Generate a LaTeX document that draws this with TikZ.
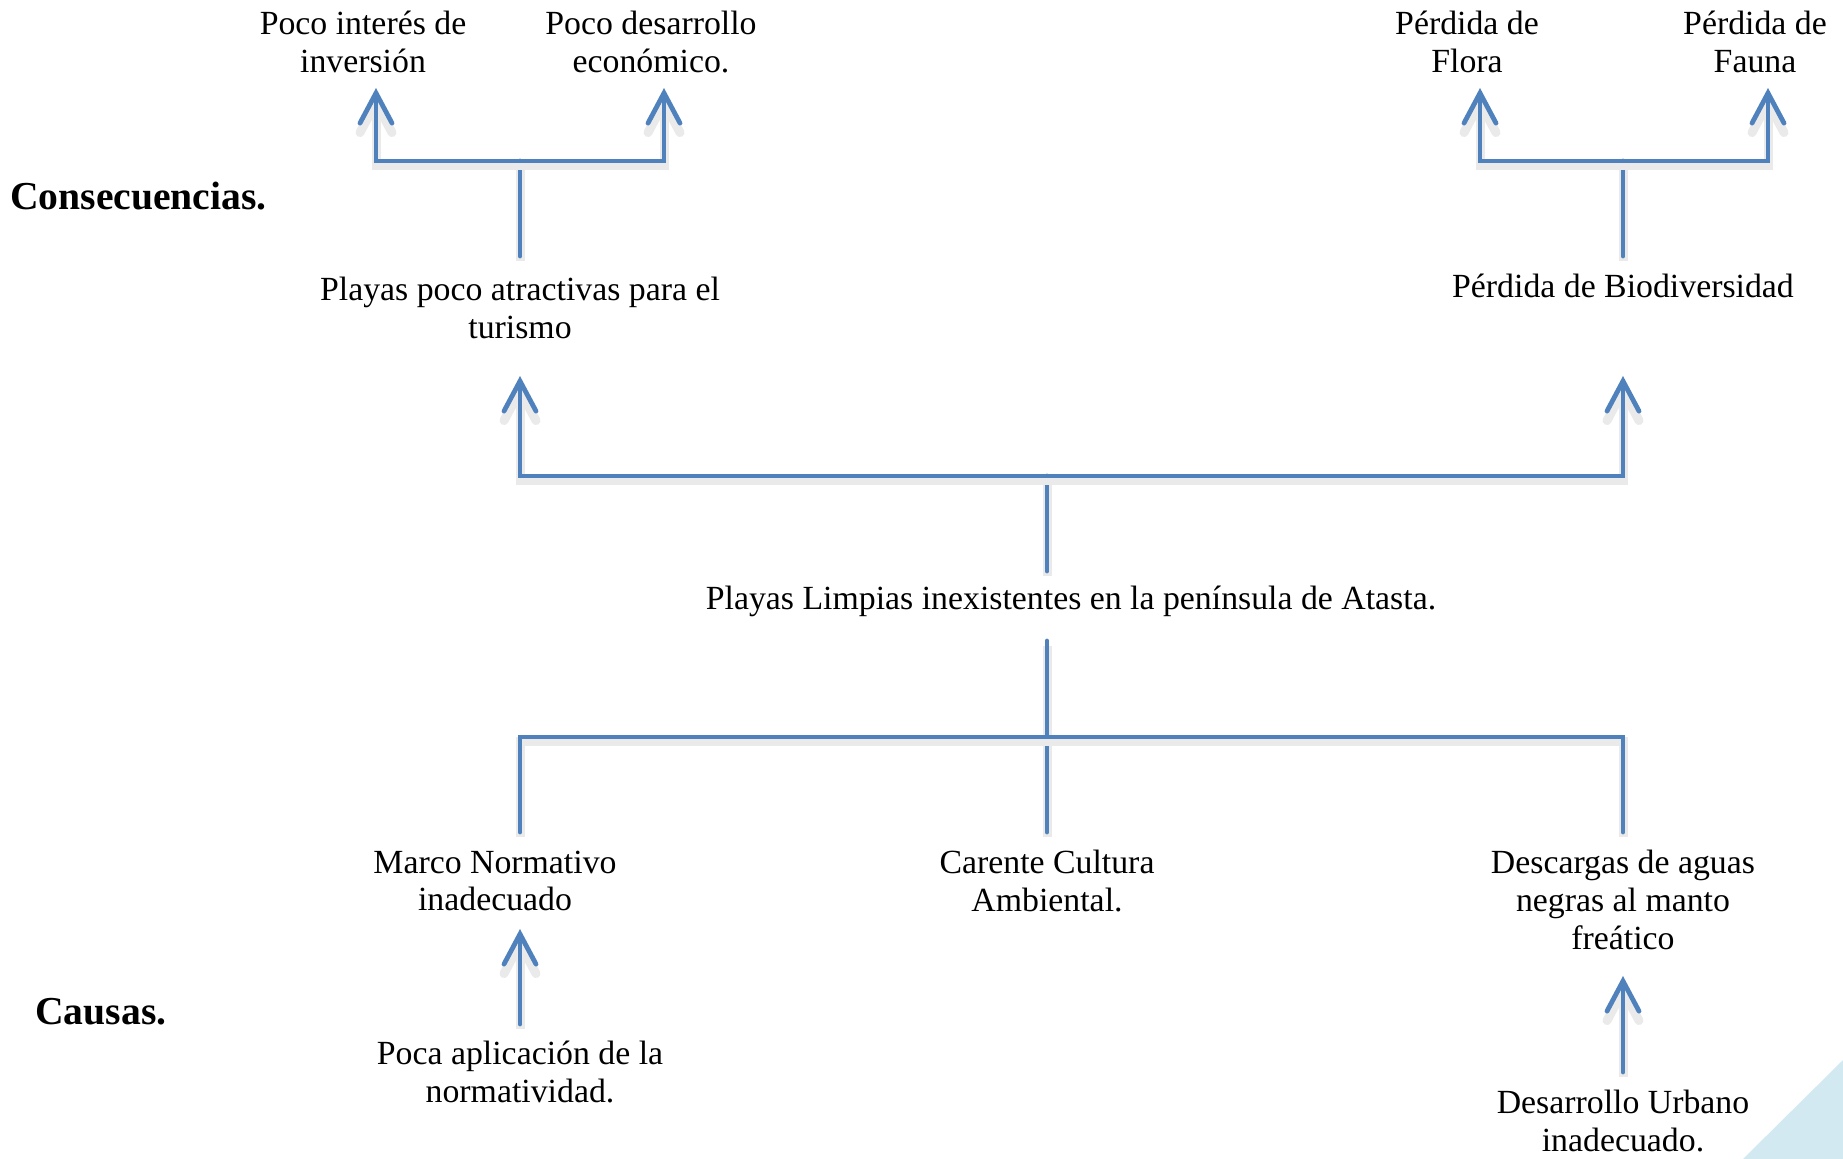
\documentclass[tikz,border=0pt]{standalone}
\usepackage{fontspec}
\setmainfont{Liberation Serif}
\usetikzlibrary{arrows.meta}
\definecolor{azul}{RGB}{79,129,189}
\definecolor{sombra}{RGB}{234,234,234}
\definecolor{celeste}{RGB}{211,233,241}
\tikzstyle{txt} = [align=center, inner sep=0pt,
    font=\fontsize{16.9}{18.8}\selectfont]
\tikzstyle{titulo} = [anchor=west, inner sep=0pt,
    font=\bfseries\fontsize{19.8}{22}\selectfont]
\tikzstyle{linea} = [draw=azul, line width=2.4pt, line cap=round,
    preaction={draw=sombra, line width=4.5pt, transform canvas={yshift=-2.5pt}}]
\tikzstyle{flecha} = [linea, -{Straight Barb[length=15pt,width=16pt,line cap=round]}]
\begin{document}
\begin{tikzpicture}[x=0.5pt,y=-0.5pt]
  \useasboundingbox (0,0) rectangle (1843,1159);
  \fill[celeste] (1843,1060) -- (1843,1159) -- (1743,1159) -- cycle;

  % consecuencias
  \node[titulo] (consec) at (10,196) {Consecuencias.};
  \node[txt] (inter) at (363,42) {Poco interés de\\inversión};
  \node[txt] (desa) at (651,42) {Poco desarrollo\\económico.};
  \node[txt] (flora) at (1467,42) {Pérdida de\\Flora};
  \node[txt] (fauna) at (1755,42) {Pérdida de\\Fauna};
  \node[txt] (turismo) at (520,308) {Playas poco atractivas para el\\turismo};
  \node[txt] (biodiv) at (1623,286) {Pérdida de Biodiversidad};

  % problema central
  \node[txt] (problema) at (1071,601) {Playas Limpias inexistentes en la península de Atasta.};

  % causas
  \node[titulo] (causas) at (35,1012) {Causas.};
  \node[txt] (marco) at (495,881) {Marco Normativo\\inadecuado};
  \node[txt] (cultura) at (1047,881) {Carente Cultura\\Ambiental.};
  \node[txt] (descargas) at (1623,900) {Descargas de aguas\\negras al manto\\freático};
  \node[txt] (aplicacion) at (520,1072) {Poca aplicación de la\\normatividad.};
  \node[txt] (urbano) at (1623,1121) {Desarrollo Urbano\\inadecuado.};

  \coordinate (s1) at (520,256);  \coordinate (j1) at (520,161);
  \coordinate (p1) at (376,88);   \coordinate (p2) at (664,88);
  \coordinate (s2) at (1623,256); \coordinate (j2) at (1623,161);
  \coordinate (p3) at (1480,88);  \coordinate (p4) at (1768,88);
  \coordinate (s3) at (1047,571); \coordinate (j3) at (1047,476);
  \coordinate (p5) at (520,376);  \coordinate (p6) at (1623,376);
  \coordinate (s4) at (1047,641); \coordinate (j4) at (1047,737);
  \coordinate (q1) at (520,832);  \coordinate (q2) at (1047,832);
  \coordinate (q3) at (1623,832);
  \coordinate (r1) at (520,1024); \coordinate (p7) at (520,929);
  \coordinate (r2) at (1623,1072); \coordinate (p8) at (1623,976);

  \draw[linea] (s1) -- (j1);
  \draw[flecha] (j1) -| (p1);
  \draw[flecha] (j1) -| (p2);
  \draw[linea] (s2) -- (j2);
  \draw[flecha] (j2) -| (p3);
  \draw[flecha] (j2) -| (p4);
  \draw[linea] (s3) -- (j3);
  \draw[flecha] (j3) -| (p5);
  \draw[flecha] (j3) -| (p6);
  \draw[linea] (s4) -- (q2);
  \draw[linea] (q1) |- (j4) -| (q3);
  \draw[flecha] (r1) -- (p7);
  \draw[flecha] (r2) -- (p8);
\end{tikzpicture}
\end{document}
